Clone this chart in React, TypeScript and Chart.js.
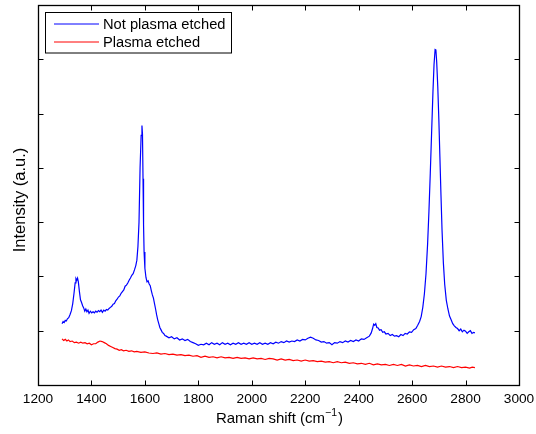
import React, { useEffect, useRef } from "react";
import { Chart, registerables } from "chart.js";

Chart.register(...registerables);

const xTickValues = [1200, 1400, 1600, 1800, 2000, 2200, 2400, 2600, 2800, 3000];
const yTickValues = [0, 1, 2, 3, 4, 5, 6, 7];
const seriesLabels = ["Not plasma etched", "Plasma etched"];
const xTitleMain = "Raman shift (cm";
const xTitleSup = "\u22121";
const yTitle = "Intensity (a.u.)";

// [Raman shift (cm^-1), intensity (a.u.)]
const notEtchedSpectrum: [number, number][] = [
  [1290, 1.13], [1294, 1.17], [1298, 1.15], [1302, 1.19], [1306, 1.18], [1310, 1.22], [1315, 1.24],
  [1320, 1.30], [1325, 1.37], [1330, 1.50], [1335, 1.70], [1339, 1.88], [1342, 1.96], [1345, 1.93],
  [1348, 1.97], [1351, 1.90], [1355, 1.72], [1359, 1.57], [1363, 1.52], [1367, 1.46], [1371, 1.42],
  [1375, 1.36], [1379, 1.40], [1383, 1.35], [1387, 1.38], [1391, 1.32], [1396, 1.36], [1401, 1.33],
  [1406, 1.35], [1411, 1.33], [1416, 1.36], [1421, 1.34], [1426, 1.37], [1431, 1.35], [1436, 1.38],
  [1441, 1.34], [1446, 1.38], [1451, 1.36], [1456, 1.39], [1461, 1.38], [1466, 1.41], [1471, 1.43],
  [1476, 1.45], [1481, 1.49], [1486, 1.50], [1491, 1.55], [1496, 1.58], [1501, 1.62], [1506, 1.64],
  [1511, 1.69], [1516, 1.72], [1521, 1.75], [1526, 1.82], [1531, 1.84], [1536, 1.88], [1541, 1.93],
  [1546, 1.97], [1551, 2.02], [1556, 2.05], [1561, 2.12], [1566, 2.20], [1570, 2.30], [1574, 2.55],
  [1578, 3.00], [1582, 4.00], [1586, 4.60], [1589, 4.78], [1591, 4.62], [1593, 3.80], [1595, 2.95],
  [1597, 2.45], [1600, 2.15], [1604, 1.98], [1608, 1.90], [1612, 1.92], [1616, 1.86], [1620, 1.83],
  [1624, 1.74], [1628, 1.66], [1632, 1.60], [1636, 1.50], [1640, 1.40], [1644, 1.29], [1648, 1.20],
  [1652, 1.13], [1656, 1.06], [1660, 1.02], [1665, 0.97], [1670, 0.95], [1675, 0.91], [1680, 0.90],
  [1690, 0.87], [1700, 0.89], [1710, 0.85], [1720, 0.87], [1730, 0.83], [1740, 0.85], [1750, 0.82],
  [1760, 0.84], [1770, 0.80], [1780, 0.78], [1790, 0.76], [1800, 0.73], [1810, 0.75], [1820, 0.74],
  [1830, 0.77], [1840, 0.74], [1850, 0.78], [1860, 0.75], [1870, 0.77], [1880, 0.74], [1890, 0.78],
  [1900, 0.75], [1910, 0.77], [1920, 0.74], [1930, 0.77], [1940, 0.75], [1950, 0.78], [1960, 0.75],
  [1970, 0.77], [1980, 0.75], [1990, 0.78], [2000, 0.75], [2010, 0.77], [2020, 0.75], [2030, 0.78],
  [2040, 0.75], [2050, 0.77], [2060, 0.75], [2070, 0.78], [2080, 0.76], [2090, 0.79], [2100, 0.77],
  [2110, 0.80], [2120, 0.78], [2130, 0.81], [2140, 0.79], [2150, 0.81], [2160, 0.80], [2170, 0.83],
  [2180, 0.81], [2190, 0.84], [2200, 0.83], [2210, 0.86], [2220, 0.88], [2230, 0.86], [2240, 0.83],
  [2250, 0.82], [2260, 0.79], [2270, 0.80], [2280, 0.77], [2290, 0.78], [2300, 0.74], [2310, 0.78],
  [2320, 0.77], [2330, 0.80], [2340, 0.78], [2350, 0.81], [2360, 0.79], [2370, 0.82], [2380, 0.80],
  [2390, 0.83], [2400, 0.81], [2410, 0.85], [2420, 0.84], [2430, 0.87], [2440, 0.90], [2447, 0.96],
  [2452, 1.04], [2456, 1.12], [2460, 1.10], [2464, 1.13], [2468, 1.06], [2473, 1.05], [2478, 1.01],
  [2484, 1.02], [2490, 0.97], [2496, 0.98], [2502, 0.94], [2510, 0.95], [2518, 0.91], [2526, 0.93],
  [2534, 0.90], [2542, 0.91], [2550, 0.89], [2558, 0.93], [2566, 0.91], [2574, 0.95], [2582, 0.94],
  [2590, 0.98], [2598, 0.97], [2606, 1.02], [2614, 1.04], [2621, 1.10], [2628, 1.17], [2634, 1.26],
  [2640, 1.43], [2646, 1.68], [2652, 2.05], [2658, 2.60], [2663, 3.20], [2668, 3.90], [2673, 4.65],
  [2678, 5.40], [2682, 5.90], [2686, 6.18], [2689, 6.17], [2692, 5.95], [2696, 5.50], [2700, 4.90],
  [2704, 4.20], [2708, 3.50], [2712, 2.85], [2717, 2.25], [2722, 1.85], [2728, 1.56], [2734, 1.40],
  [2740, 1.27], [2746, 1.20], [2752, 1.13], [2758, 1.09], [2764, 1.06], [2770, 1.04], [2776, 1.00],
  [2782, 1.03], [2788, 0.98], [2794, 1.01], [2800, 0.99], [2806, 0.95], [2812, 0.98], [2818, 1.00],
  [2824, 0.95], [2830, 0.97], [2835, 0.96],
];

const etchedSpectrum: [number, number][] = [
  [1290, 0.85], [1296, 0.82], [1302, 0.84], [1308, 0.81], [1314, 0.83], [1320, 0.80], [1328, 0.81],
  [1336, 0.78], [1344, 0.79], [1352, 0.77], [1360, 0.79], [1368, 0.77], [1376, 0.78], [1384, 0.76],
  [1392, 0.77], [1400, 0.74], [1408, 0.76], [1416, 0.76], [1424, 0.79], [1432, 0.81], [1440, 0.80],
  [1448, 0.78], [1456, 0.76], [1464, 0.73], [1472, 0.71], [1480, 0.69], [1488, 0.67], [1496, 0.66],
  [1504, 0.64], [1512, 0.65], [1520, 0.63], [1530, 0.64], [1540, 0.62], [1550, 0.63], [1560, 0.61],
  [1570, 0.62], [1585, 0.60], [1600, 0.61], [1615, 0.59], [1630, 0.58], [1645, 0.59], [1660, 0.57],
  [1675, 0.58], [1690, 0.56], [1705, 0.57], [1720, 0.55], [1735, 0.56], [1750, 0.54], [1765, 0.55],
  [1780, 0.53], [1795, 0.54], [1810, 0.51], [1825, 0.53], [1840, 0.51], [1855, 0.52], [1870, 0.50],
  [1885, 0.52], [1900, 0.50], [1915, 0.51], [1930, 0.49], [1945, 0.51], [1960, 0.49], [1975, 0.50],
  [1990, 0.48], [2005, 0.50], [2020, 0.48], [2035, 0.49], [2050, 0.47], [2065, 0.49], [2080, 0.48],
  [2095, 0.46], [2110, 0.48], [2125, 0.46], [2140, 0.47], [2155, 0.45], [2170, 0.46], [2185, 0.44],
  [2200, 0.46], [2215, 0.44], [2230, 0.45], [2245, 0.43], [2260, 0.44], [2275, 0.42], [2290, 0.43],
  [2305, 0.41], [2320, 0.43], [2335, 0.41], [2350, 0.42], [2365, 0.40], [2380, 0.41], [2395, 0.39],
  [2410, 0.40], [2425, 0.38], [2440, 0.40], [2455, 0.37], [2470, 0.39], [2485, 0.37], [2500, 0.38],
  [2515, 0.36], [2530, 0.38], [2545, 0.36], [2560, 0.38], [2575, 0.35], [2590, 0.37], [2605, 0.35],
  [2620, 0.36], [2635, 0.34], [2650, 0.36], [2665, 0.34], [2680, 0.35], [2695, 0.33], [2710, 0.35],
  [2725, 0.33], [2740, 0.34], [2755, 0.32], [2770, 0.34], [2785, 0.32], [2800, 0.33], [2815, 0.31],
  [2825, 0.33], [2835, 0.32],
];

const FONT = "'Liberation Sans', Arial, Helvetica, sans-serif";

const framePlugin = {
  id: "matlabFrame",
  afterDraw(chart: any) {
    const { ctx, chartArea } = chart;
    const { left, right, top, bottom } = chartArea;
    const xs = chart.scales.x;
    const ys = chart.scales.y;
    const L = Math.round(left) + 0.5;
    const R = Math.round(right) + 0.5;
    const T = Math.round(top) + 0.5;
    const B = Math.round(bottom) + 0.5;
    ctx.save();
    ctx.strokeStyle = "#000";
    ctx.lineWidth = 1;
    const tl = 5;
    ctx.beginPath();
    xTickValues.forEach((v) => {
      const px = Math.round(xs.getPixelForValue(v)) + 0.5;
      ctx.moveTo(px, B);
      ctx.lineTo(px, B - tl);
      ctx.moveTo(px, T);
      ctx.lineTo(px, T + tl);
    });
    yTickValues.forEach((v) => {
      const py = Math.round(ys.getPixelForValue(v)) + 0.5;
      ctx.moveTo(L, py);
      ctx.lineTo(L + tl, py);
      ctx.moveTo(R, py);
      ctx.lineTo(R - tl, py);
    });
    ctx.stroke();
    ctx.lineWidth = 1.3;
    ctx.strokeRect(L, T, R - L, B - T);

    // x-axis title with superscript
    ctx.fillStyle = "#000";
    ctx.textBaseline = "alphabetic";
    ctx.textAlign = "left";
    const mainFont = `15px ${FONT}`;
    const supFont = `10.5px ${FONT}`;
    ctx.font = mainFont;
    const wMain = ctx.measureText(xTitleMain).width;
    const wClose = ctx.measureText(")").width;
    ctx.font = supFont;
    const wSup = ctx.measureText(xTitleSup).width;
    const total = wMain + wSup + wClose + 1;
    const cx = (left + right) / 2 + 1;
    let tx = cx - total / 2;
    const baseY = 422.5;
    ctx.font = mainFont;
    ctx.fillText(xTitleMain, tx, baseY);
    tx += wMain;
    ctx.font = supFont;
    ctx.fillText(xTitleSup, tx, baseY - 6.5);
    tx += wSup + 1;
    ctx.font = mainFont;
    ctx.fillText(")", tx, baseY);

    // y-axis title
    ctx.save();
    ctx.translate(24.5, (top + bottom) / 2 + 5);
    ctx.rotate(-Math.PI / 2);
    ctx.font = `16.5px ${FONT}`;
    ctx.textAlign = "center";
    ctx.textBaseline = "alphabetic";
    ctx.fillText(yTitle, 0, 0);
    ctx.restore();

    // legend
    const bx = 45.5, by = 12.5, bw = 186, bh = 40.5;
    ctx.fillStyle = "#fff";
    ctx.fillRect(bx, by, bw, bh);
    ctx.lineWidth = 1;
    ctx.strokeStyle = "#000";
    ctx.strokeRect(bx, by, bw, bh);
    const rows = [24, 42];
    chart.data.datasets.forEach((ds: any, i: number) => {
      const y = rows[i];
      ctx.strokeStyle = ds.borderColor;
      ctx.lineWidth = 1;
      ctx.beginPath();
      ctx.moveTo(54, y);
      ctx.lineTo(99, y);
      ctx.stroke();
      ctx.fillStyle = "#000";
      ctx.font = `14.7px ${FONT}`;
      ctx.textBaseline = "middle";
      ctx.textAlign = "left";
      ctx.fillText(ds.label, 103, y + 0.5);
    });
    ctx.restore();
  },
};

export default function App() {
  const canvasRef = useRef<HTMLCanvasElement | null>(null);

  useEffect(() => {
    document.body.style.margin = "0";
    const canvas = canvasRef.current;
    if (!canvas) return;
    const chart = new Chart(canvas, {
      type: "line",
      data: {
        datasets: [
          {
            label: seriesLabels[0],
            data: notEtchedSpectrum.map(([x, y]) => ({ x, y })),
            borderColor: "#0000ff",
            borderWidth: 1.2,
            pointRadius: 0,
            tension: 0,
            fill: false,
          },
          {
            label: seriesLabels[1],
            data: etchedSpectrum.map(([x, y]) => ({ x, y })),
            borderColor: "#ff0000",
            borderWidth: 1.2,
            pointRadius: 0,
            tension: 0,
            fill: false,
          },
        ],
      },
      options: {
        animation: false,
        responsive: false,
        maintainAspectRatio: false,
        devicePixelRatio: 1,
        layout: { padding: { left: 0, right: 17, top: 5, bottom: 0 } },
        plugins: {
          legend: { display: false },
          tooltip: { enabled: false },
        },
        scales: {
          x: {
            type: "linear",
            min: 1200,
            max: 3000,
            afterBuildTicks: (scale: any) => {
              scale.ticks = xTickValues.map((v) => ({ value: v }));
            },
            afterFit: (scale: any) => {
              scale.height = 49;
              scale.paddingLeft = 0;
              scale.paddingRight = 0;
            },
            grid: { display: false, drawTicks: false },
            border: { display: false },
            ticks: {
              color: "#000",
              font: { family: FONT, size: 13.7 },
              padding: 6,
              maxRotation: 0,
              autoSkip: false,
              callback: (v: any) => String(v),
            },
            title: { display: false },
          },
          y: {
            type: "linear",
            min: 0,
            max: 7,
            afterBuildTicks: (scale: any) => {
              scale.ticks = yTickValues.map((v) => ({ value: v }));
            },
            afterFit: (scale: any) => {
              scale.width = 38;
              scale.paddingTop = 0;
              scale.paddingBottom = 0;
            },
            grid: { display: false, drawTicks: false },
            border: { display: false },
            ticks: { display: false },
            title: { display: false },
          },
        },
      },
      plugins: [framePlugin],
    });
    return () => chart.destroy();
  }, []);

  return (
    <div style={{ position: "absolute", left: 0, top: 0, width: 536, height: 434 }}>
      <canvas ref={canvasRef} width={536} height={434} style={{ width: 536, height: 434 }} />
    </div>
  );
}
